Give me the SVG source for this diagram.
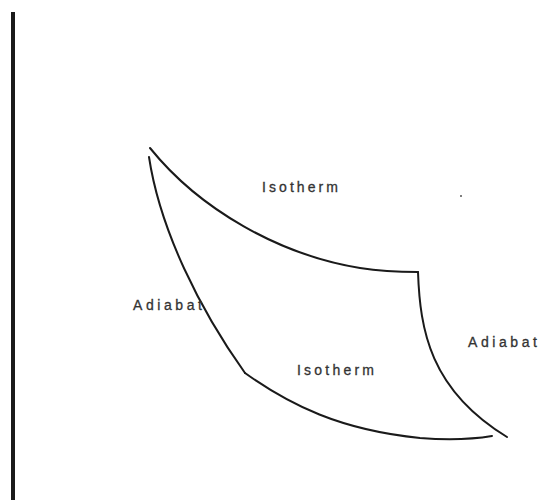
<svg xmlns="http://www.w3.org/2000/svg" width="542" height="500" viewBox="0 0 542 500">
<style>
.c{fill:none;stroke:#1a1a1a;stroke-width:2;stroke-linecap:round}
.t{font-family:"Liberation Sans",Arial,sans-serif;font-size:14px;fill:#333;stroke:#333;stroke-width:0.3}
</style>
<rect width="542" height="500" fill="#fff"/>
<g id="axis"><line x1="13" y1="12" x2="13" y2="500" stroke="#1a1a1a" stroke-width="4"/></g>
<g id="connectors">
<path class="c" d="M150,148 C200,210 280,255 360,268 C385,272 405,272 418,272"/>
<path class="c" d="M149,157 C160,230 200,310 245,373"/>
<path class="c" d="M245,373 C290,405 340,430 420,438 C460,441 480,438 492,436"/>
<path class="c" d="M418,272 C420,330 430,390 507,437"/>
</g>
<g id="labels">
<text class="t" x="262" y="192" textLength="76" lengthAdjust="spacing">Isotherm</text>
<text class="t" x="133" y="310" textLength="69" lengthAdjust="spacing">Adiabat</text>
<text class="t" x="468" y="347" textLength="69" lengthAdjust="spacing">Adiabat</text>
<text class="t" x="297" y="375" textLength="77" lengthAdjust="spacing">Isotherm</text>
</g>
<circle cx="461" cy="196" r="1" fill="#555"/>
</svg>
